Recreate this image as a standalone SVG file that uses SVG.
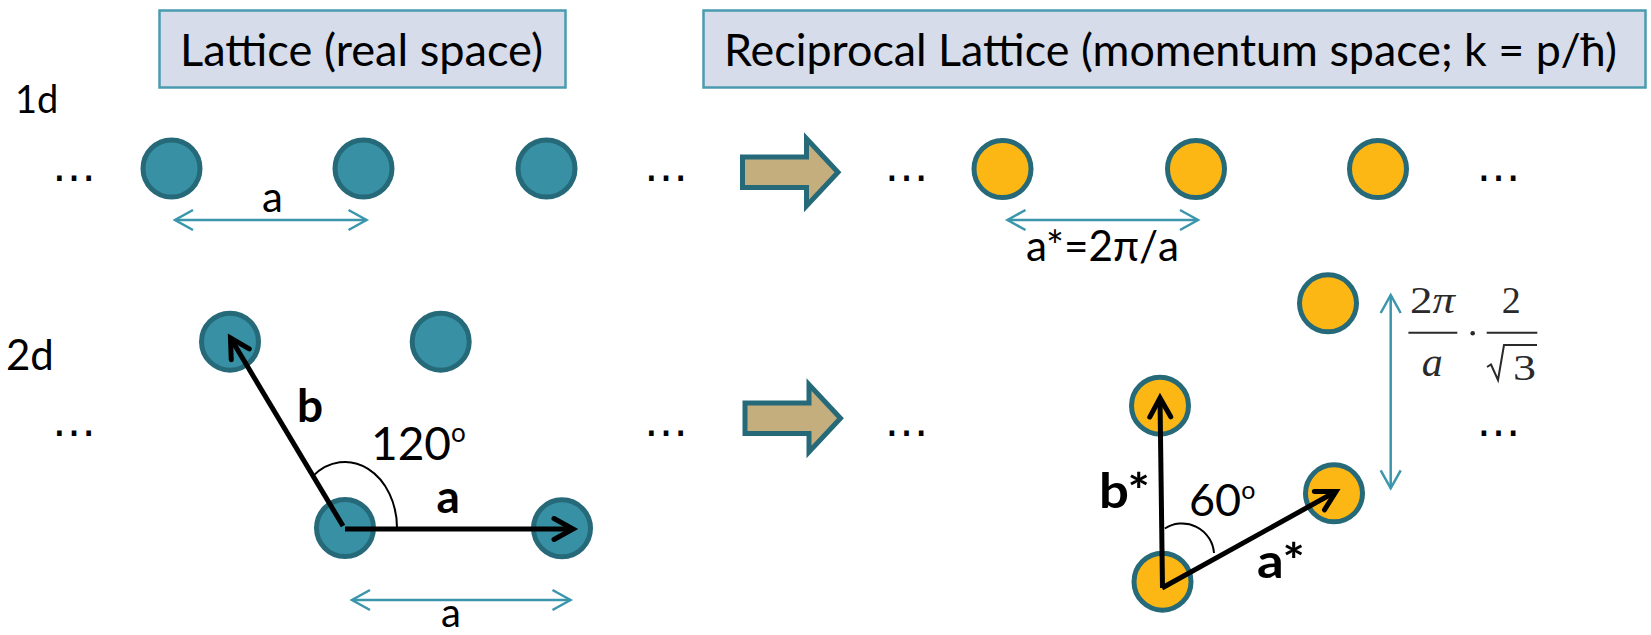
<svg xmlns="http://www.w3.org/2000/svg" width="1651" height="635" viewBox="0 0 1651 635">
  <defs>
    <style>
      .hdr { fill: #D6DCE9; stroke: #4A9BB0; stroke-width: 2.5; }
      .t { font-family: Lato, "Noto Sans", sans-serif; fill: #000; }
      .b { font-weight: bold; }
      .dots { font-family: "DejaVu Sans", sans-serif; font-size: 44px; fill: #000; text-anchor: middle; }
      .real { fill: #3890A5; stroke: #266A7A; stroke-width: 5; }
      .recip { fill: #FDB714; stroke: #266A7A; stroke-width: 5; }
      .big { fill: #C4AE7D; stroke: #266A7A; stroke-width: 5; stroke-linejoin: miter; }
      .vec { stroke: #000; stroke-width: 5; fill: none; marker-end: url(#vhead); }
      .dim { stroke: #3B96AC; stroke-width: 2.5; fill: none; marker-start: url(#dhead); marker-end: url(#dhead); }
      .ang { stroke: #000; stroke-width: 2; fill: none; }
      .math { font-family: "Liberation Serif", serif; fill: #2a2a2a; }
      .mline { stroke: #2a2a2a; stroke-width: 2; fill: none; }
    </style>
    <marker id="vhead" markerUnits="userSpaceOnUse" orient="auto" refX="0" refY="0" markerWidth="40" markerHeight="40" overflow="visible">
      <path d="M-19,-10.5 L0,0 L-19,10.5" fill="none" stroke="#000" stroke-width="5" stroke-linejoin="miter" stroke-linecap="round"/>
    </marker>
    <marker id="dhead" markerUnits="userSpaceOnUse" orient="auto-start-reverse" refX="0" refY="0" markerWidth="40" markerHeight="40" overflow="visible">
      <path d="M-18,-10 L0,0 L-18,10" fill="none" stroke="#3B96AC" stroke-width="2.5"/>
    </marker>
  </defs>

  <rect width="1651" height="635" fill="#fff"/>

  <!-- headers -->
  <g id="header-real">
    <rect class="hdr" x="159.5" y="10.5" width="406" height="77"/>
    <text class="t" x="180" y="66" font-size="45" textLength="363" lengthAdjust="spacingAndGlyphs">Lattice (real space)</text>
  </g>
  <g id="header-reciprocal">
    <rect class="hdr" x="703.5" y="10.5" width="942" height="77"/>
    <text class="t" x="724" y="66" font-size="45" textLength="893" lengthAdjust="spacingAndGlyphs">Reciprocal Lattice (momentum space; k = p/ħ)</text>
  </g>

  <!-- row labels -->
  <text id="label-1d" class="t" x="15" y="113" font-size="38">1d</text>
  <text id="label-2d" class="t" x="6" y="370" font-size="42">2d</text>

  <!-- ellipses -->
  <g id="ellipses">
    <text class="dots" x="74" y="180.5">…</text>
    <text class="dots" x="666" y="180.5">…</text>
    <text class="dots" x="906.5" y="180.5">…</text>
    <text class="dots" x="1498.5" y="180.5">…</text>
    <text class="dots" x="74" y="435.5">…</text>
    <text class="dots" x="666" y="435.5">…</text>
    <text class="dots" x="906.5" y="435.5">…</text>
    <text class="dots" x="1498.5" y="435.5">…</text>
  </g>

  <!-- 1d real lattice -->
  <g id="real-1d">
    <circle class="real" cx="171.5" cy="168.5" r="28.5"/>
    <circle class="real" cx="363.5" cy="168.5" r="28.5"/>
    <circle class="real" cx="546.5" cy="168.5" r="28.5"/>
  </g>

  <!-- 1d reciprocal lattice -->
  <g id="recip-1d">
    <circle class="recip" cx="1002.5" cy="169" r="28.5"/>
    <circle class="recip" cx="1196" cy="169" r="28.5"/>
    <circle class="recip" cx="1378" cy="169" r="28.5"/>
  </g>

  <!-- 2d real lattice -->
  <g id="real-2d">
    <circle class="real" cx="230" cy="341.7" r="28.5"/>
    <circle class="real" cx="440.7" cy="341.7" r="28.5"/>
    <circle class="real" cx="345" cy="528" r="28.5"/>
    <circle class="real" cx="562" cy="528.3" r="28.5"/>
  </g>

  <!-- 2d reciprocal lattice -->
  <g id="recip-2d">
    <circle class="recip" cx="1328" cy="303.3" r="28.5"/>
    <circle class="recip" cx="1160" cy="405.7" r="28.5"/>
    <circle class="recip" cx="1162.5" cy="581.7" r="28.5"/>
    <circle class="recip" cx="1334" cy="493.3" r="28.5"/>
  </g>

  <!-- transform arrows -->
  <g id="map-1d">
    <path class="big" d="M742.5,157 H806.5 V138.5 L838,172.3 L806.5,206 V187.5 H742.5 Z"/>
  </g>
  <g id="map-2d">
    <path class="big" transform="translate(2.5,246)" d="M742.5,157 H806.5 V138.5 L838,172.3 L806.5,206 V187.5 H742.5 Z"/>
  </g>

  <!-- connectors: lattice vectors, spacings and angles -->
  <g id="connectors">
    <path class="dim" d="M175,220 H366.5"/>
    <path class="dim" d="M1007.5,220 H1198"/>
    <path class="dim" d="M352,600 H570.5"/>
    <path class="dim" d="M1390.7,295 V488.3"/>

    <path class="vec" d="M343,526 L230.5,338"/>
    <path class="vec" d="M345,529 L573,529"/>
    <path class="vec" d="M1162.5,588 L1160,398"/>
    <path class="vec" d="M1162,588 L1336,491.5"/>

    <path class="ang" d="M312.9,476.1 A52,66 0 0 1 397,529"/>
    <path class="ang" d="M1164.8,528.5 A32,32 0 0 1 1214,553"/>
  </g>

  <!-- labels -->
  <g id="labels">
    <text class="t" x="262" y="212" font-size="42">a</text>
    <text class="t" x="1026" y="261" font-size="42" textLength="153" lengthAdjust="spacingAndGlyphs">a*=2π/a</text>
    <text class="t b" x="297" y="422" font-size="46">b</text>
    <text class="t b" x="436.5" y="513" font-size="46">a</text>
    <text class="t" x="371" y="460" font-size="46">120<tspan font-size="26" dy="-18">o</tspan></text>
    <text class="t b" x="1099" y="507.5" font-size="48" textLength="51" lengthAdjust="spacingAndGlyphs">b*</text>
    <text class="t" x="1189" y="516" font-size="45">60<tspan font-size="25" dy="-17">o</tspan></text>
    <text class="t b" x="1257" y="577.5" font-size="48" textLength="48" lengthAdjust="spacingAndGlyphs">a*</text>
    <text class="t" x="441" y="627" font-size="40">a</text>
  </g>

  <!-- spacing formula 2π/a · 2/√3 -->
  <g id="formula">
    <text class="math" x="1410" y="313" font-size="38" textLength="45" lengthAdjust="spacingAndGlyphs">2<tspan font-style="italic">π</tspan></text>
    <line class="mline" x1="1408.4" y1="332.7" x2="1457.3" y2="332.7"/>
    <text class="math" x="1421.7" y="376" font-size="42" font-style="italic">a</text>
    <circle cx="1472.7" cy="333.3" r="2.3" fill="#2a2a2a"/>
    <text class="math" x="1501.7" y="313" font-size="38" textLength="19" lengthAdjust="spacingAndGlyphs">2</text>
    <line class="mline" x1="1486.7" y1="332.7" x2="1537.3" y2="332.7"/>
    <path class="mline" d="M1487,367 L1491,364.5 L1498,380 L1504,345 H1537"/>
    <text class="math" x="1513" y="380" font-size="36" textLength="23" lengthAdjust="spacingAndGlyphs">3</text>
  </g>
</svg>
